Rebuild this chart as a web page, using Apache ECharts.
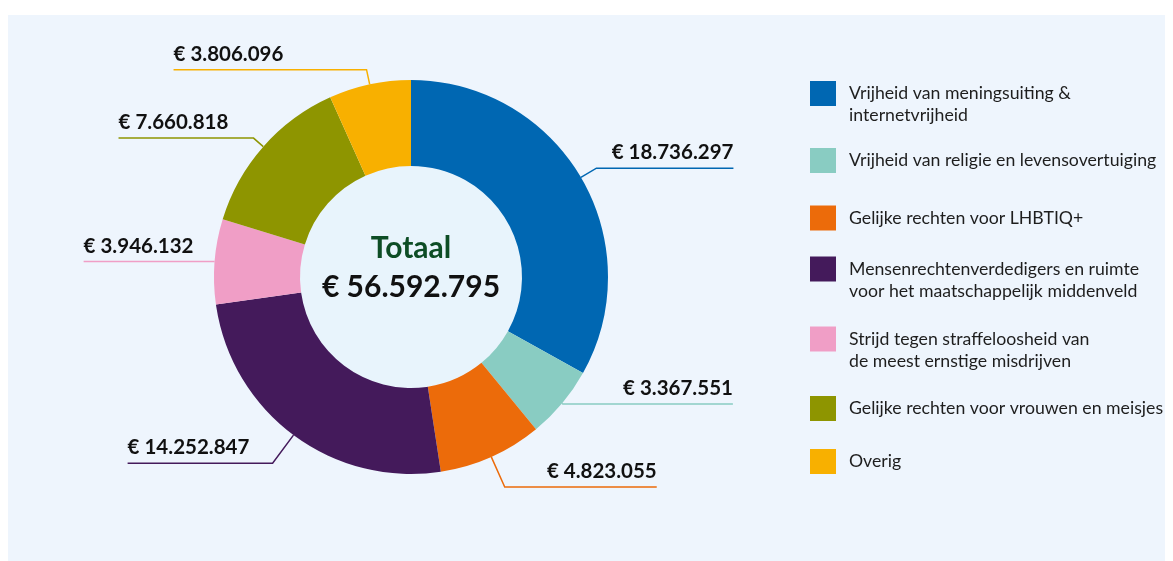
<!DOCTYPE html>
<html><head><meta charset="utf-8">
<script src="https://cdn.jsdelivr.net/npm/echarts@6/dist/echarts.min.js"></script>
<style>
html,body{margin:0;padding:0;background:#ffffff;}
#panel{position:absolute;left:8px;top:15px;width:1157px;height:546px;background:#eef5fd;}
#chart{position:absolute;left:0;top:0;width:1173px;height:561px;}
</style></head><body>
<div id="panel"></div><div id="chart"></div>
<script>
const categories = [
  'Vrijheid van meningsuiting &\ninternetvrijheid',
  'Vrijheid van religie en levensovertuiging',
  'Gelijke rechten voor LHBTIQ+',
  'Mensenrechtenverdedigers en ruimte\nvoor het maatschappelijk middenveld',
  'Strijd tegen straffeloosheid van\nde meest ernstige misdrijven',
  'Gelijke rechten voor vrouwen en meisjes',
  'Overig'
];
const values = [18736297, 3367551, 4823055, 14252847, 3946132, 7660818, 3806096];
const totalValue = 56592795;
const totalTitle = 'Totaal';

// styling / layout (not data)
const colors = ['#0067b2', '#89ccc2', '#ec6b0a', '#441a5b', '#f09ec6', '#8e9500', '#f8b000'];
const lineLengths = [[18, 137], [1, 170], [33, 152], [35, 145], [1, 130], [13, 135], [15, 193]];
const legendTops = [60.5, 148, 205.5, 236, 306, 396, 449];

function fmt(n) { return String(n).replace(/\B(?=(\d{3})+(?!\d))/g, '.'); }

const chart = echarts.init(document.getElementById('chart'), null, {renderer: 'canvas'});
const option = {
  animation: false,
  legend: categories.map((c, i) => ({
    data: [c], orient: 'vertical', left: 810, top: legendTops[i], padding: 0,
    itemWidth: 26, itemHeight: 25, icon: 'rect', selectedMode: false, itemGap: 0,
    formatter: name => (name.indexOf('\n') >= 0 ? ' \n' + name : name),
    textStyle: {fontFamily: 'Lato', fontSize: 17.7, color: '#1e1e1e', lineHeight: 22,
      padding: [0, 0, 0, 8]}
  })),
  series: [
    {
      type: 'pie', center: [411, 277], radius: [0, 111], silent: true, z: 1,
      legendHoverLink: false, emphasis: {disabled: true},
      data: [{value: 1, name: '__total', itemStyle: {color: '#e8f4fc'}}],
      label: {show: true, position: 'center', padding: [0, 0, 18, 0],
        formatter: '{a|' + totalTitle + '}\n{b|€ ' + fmt(totalValue) + '}',
        rich: {
          a: {fontFamily: 'Lato', fontSize: 30, fontWeight: 'bold', color: '#0d4d25', lineHeight: 39},
          b: {fontFamily: 'Lato', fontSize: 30, fontWeight: 'bold', color: '#111111', lineHeight: 39}
        }},
      labelLine: {show: false}
    },
    {
      type: 'pie', center: [411, 277], radius: [111, 197], startAngle: 90, clockwise: true,
      avoidLabelOverlap: false, z: 2, emphasis: {disabled: true},
      data: values.map((v, i) => ({
        name: categories[i], value: v, itemStyle: {color: colors[i]},
        labelLine: {length: lineLengths[i][0], length2: lineLengths[i][1]}
      })),
      label: {show: true, formatter: p => '€ ' + fmt(p.value),
        fontFamily: 'Lato', fontWeight: 'bold', fontSize: 20.5, color: '#111111'},
      labelLine: {show: true, lineStyle: {width: 1.5}},
      labelLayout: function (p) {
        const pts = p.labelLinePoints;
        if (!pts) return {};
        const end = pts[pts.length - 1];
        const toRight = end[0] > pts[0][0];
        return {x: end[0], y: end[1] - 5, align: toRight ? 'right' : 'left',
          verticalAlign: 'bottom', labelLinePoints: pts};
      }
    }
  ]
};
chart.setOption(option);
</script></body></html>
